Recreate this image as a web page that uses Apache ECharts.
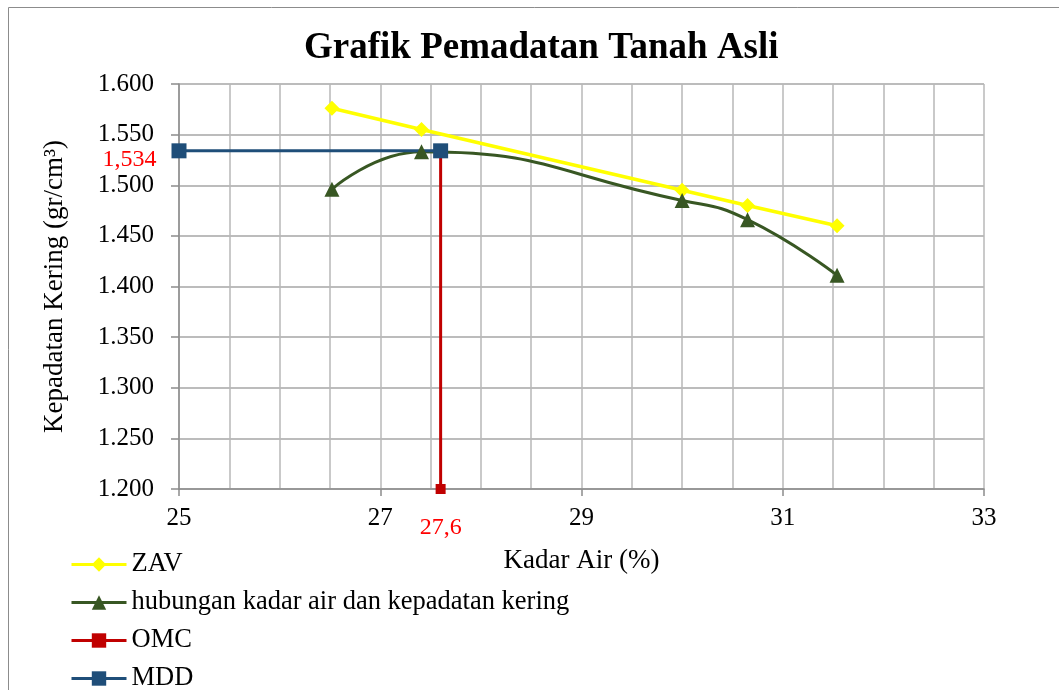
<!DOCTYPE html>
<html>
<head>
<meta charset="utf-8">
<script src="https://cdn.jsdelivr.net/npm/echarts@6/dist/echarts.min.js"></script>
<style>
  html, body { margin: 0; padding: 0; background: #fff; }
  #chart { width: 1059px; height: 690px; }
</style>
</head>
<body>
<div id="chart"></div>
<script>
// kadar air (%) dan kepadatan kering (gr/cm3)
const zavX = [26.52, 27.41, 30.0, 30.65, 31.54]
const zavY = [1.576, 1.555, 1.495, 1.480, 1.460]
const ujiX = [26.52, 27.41, 30.0, 30.65, 31.54]
const ujiY = [1.496, 1.533, 1.485, 1.466, 1.411]
const omcX = 27.6
const mddY = 1.534
const yMin = 1.2
const seriesNames = ['ZAV', 'hubungan kadar air dan kepadatan kering', 'OMC', 'MDD']

const serif = "'Liberation Serif', 'Times New Roman', serif"
const toComma = (v) => String(v).replace('.', ',')

const chart = echarts.init(document.getElementById('chart'))

const option = {
  animation: false,
  backgroundColor: '#fff',
  graphic: [{
    type: 'rect',
    silent: true,
    shape: { x: 8.5, y: 7.5, width: 1200, height: 800 },
    style: { fill: 'none', stroke: '#8c8c8c', lineWidth: 1 }
  }],
  title: {
    text: 'Grafik Pemadatan Tanah Asli',
    left: 299,
    top: 25,
    textStyle: { fontFamily: serif, fontSize: 37, fontWeight: 'bold', color: '#000' }
  },
  grid: { left: 179, right: 75, top: 84, bottom: 201, containLabel: false },
  legend: {
    orient: 'vertical',
    left: 70,
    top: 551,
    height: 200,
    padding: 0,
    itemWidth: 55,
    itemHeight: 18,
    itemGap: 11,
    data: seriesNames,
    lineStyle: { width: 3 },
    textStyle: { fontFamily: serif, fontSize: 26.5, color: '#000' }
  },
  xAxis: {
    type: 'value',
    min: 25,
    max: 33,
    interval: 2,
    name: 'Kadar Air (%)',
    nameLocation: 'middle',
    nameGap: 58,
    nameTextStyle: { fontFamily: serif, fontSize: 27, color: '#000' },
    axisLine: { show: true, lineStyle: { color: '#8c8c8c', width: 1.5 } },
    axisTick: { show: true, length: 7, lineStyle: { color: '#8c8c8c', width: 1.5 } },
    axisLabel: { fontFamily: serif, fontSize: 25, color: '#000', margin: 17 },
    splitLine: { show: true, lineStyle: { color: '#b8b8b8', width: 1.5 } },
    minorTick: { show: false, splitNumber: 4 },
    minorSplitLine: { show: true, lineStyle: { color: '#b8b8b8', width: 1.5 } }
  },
  yAxis: {
    type: 'value',
    min: 1.2,
    max: 1.6,
    interval: 0.05,
    name: 'Kepadatan Kering (gr/cm³)',
    nameLocation: 'middle',
    nameGap: 111,
    nameTextStyle: { fontFamily: serif, fontSize: 27, color: '#000' },
    axisLine: { show: true, lineStyle: { color: '#8c8c8c', width: 1.5 } },
    axisTick: { show: true, length: 8, lineStyle: { color: '#8c8c8c', width: 1.5 } },
    axisLabel: {
      fontFamily: serif, fontSize: 25, color: '#000', margin: 25,
      formatter: (v) => v.toFixed(3)
    },
    splitLine: { show: true, lineStyle: { color: '#a6a6a6', width: 1.5 } }
  },
  series: [
    {
      name: seriesNames[0],
      type: 'line',
      clip: false,
      data: zavX.map((x, i) => [x, zavY[i]]),
      symbol: 'diamond',
      symbolSize: 15,
      lineStyle: { color: '#ffff00', width: 3.5 },
      itemStyle: { color: '#ffff00' }
    },
    {
      name: seriesNames[1],
      type: 'line',
      clip: false,
      smooth: 0.5,
      data: ujiX.map((x, i) => [x, ujiY[i]]),
      symbol: 'triangle',
      symbolSize: 15,
      lineStyle: { color: '#385723', width: 3 },
      itemStyle: { color: '#385723' }
    },
    {
      name: seriesNames[2],
      type: 'line',
      clip: false,
      data: [
        [omcX, mddY],
        {
          value: [omcX, yMin],
          label: {
            show: true,
            position: 'bottom',
            distance: 22,
            formatter: () => toComma(omcX),
            fontFamily: serif, fontSize: 24, color: '#ff0000'
          }
        }
      ],
      symbol: 'rect',
      symbolSize: 10,
      lineStyle: { color: '#c00000', width: 3 },
      itemStyle: { color: '#c00000' }
    },
    {
      name: seriesNames[3],
      type: 'line',
      clip: false,
      data: [
        {
          value: [25, mddY],
          label: {
            show: true,
            position: 'left',
            distance: 15,
            offset: [0, 9],
            formatter: () => toComma(mddY),
            fontFamily: serif, fontSize: 24, color: '#ff0000'
          }
        },
        [omcX, mddY]
      ],
      symbol: 'rect',
      symbolSize: 15,
      lineStyle: { color: '#1f4e79', width: 3 },
      itemStyle: { color: '#1f4e79' }
    }
  ]
}

chart.setOption(option)
window.addEventListener('resize', () => chart.resize())
</script>
</body>
</html>
